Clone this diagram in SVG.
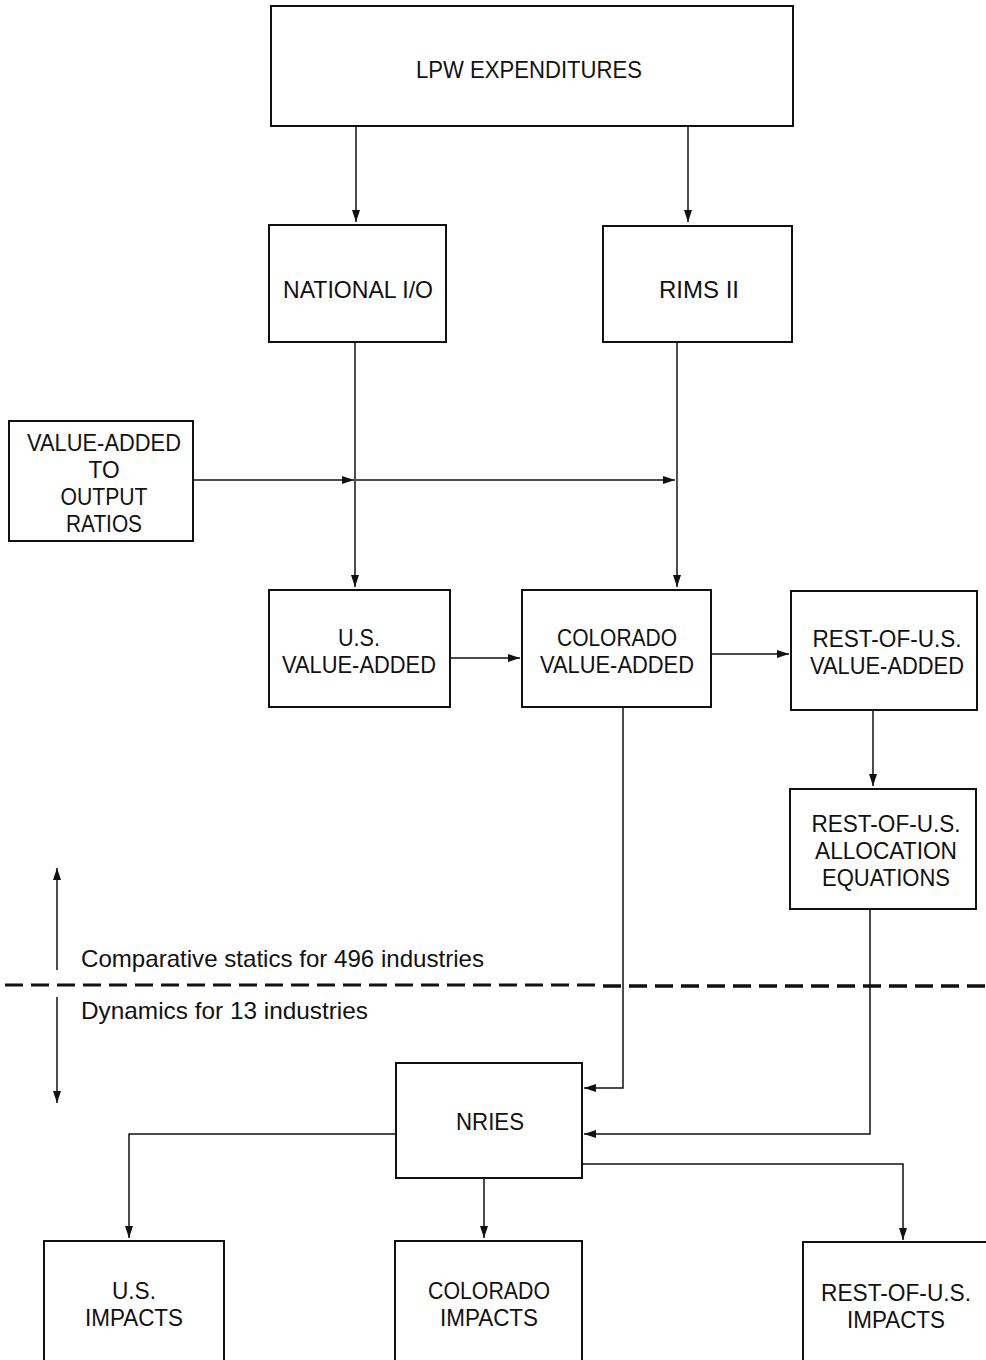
<svg xmlns="http://www.w3.org/2000/svg" width="986" height="1360" viewBox="0 0 986 1360">
<defs>
<style>
.box{fill:#fff;stroke:#111;stroke-width:2}
.t{font-family:"Liberation Sans",Arial,sans-serif;font-size:24px;fill:#111;text-anchor:middle}
.n{font-family:"Liberation Sans",Arial,sans-serif;font-size:24px;fill:#111}
.c{fill:none;stroke:#111;stroke-width:1.5}
</style>
<marker id="ah" viewBox="0 0 12 8" refX="12" refY="4" markerWidth="12" markerHeight="8" markerUnits="userSpaceOnUse" orient="auto">
<path d="M0,0 L12,4 L0,8 Z" fill="#111"/>
</marker>
</defs>
<rect width="986" height="1360" fill="#fff"/>

<g id="connectors">
<path class="c" d="M356,127 V222" marker-end="url(#ah)"/>
<path class="c" d="M688,127 V222" marker-end="url(#ah)"/>
<path class="c" d="M355,343 V587" marker-end="url(#ah)"/>
<path class="c" d="M677,343 V587" marker-end="url(#ah)"/>
<path class="c" d="M194,480 H354" marker-end="url(#ah)"/>
<path class="c" d="M356,480 H675" marker-end="url(#ah)"/>
<path class="c" d="M451,658 H520" marker-end="url(#ah)"/>
<path class="c" d="M712,654 H789" marker-end="url(#ah)"/>
<path class="c" d="M873,711 V786" marker-end="url(#ah)"/>
<path class="c" d="M623,708 V1088 H584" marker-end="url(#ah)"/>
<path class="c" d="M870,910 V1134 H584" marker-end="url(#ah)"/>
<path class="c" d="M396,1134 H129 V1238" marker-end="url(#ah)"/>
<path class="c" d="M484,1179 V1238" marker-end="url(#ah)"/>
<path class="c" d="M583,1164 H903 V1240" marker-end="url(#ah)"/>
<path class="c" d="M57,970 V868" marker-end="url(#ah)"/>
<path class="c" d="M57,997 V1103" marker-end="url(#ah)"/>
<path d="M5,985 H600" fill="none" stroke="#111" stroke-width="3" stroke-dasharray="18,8"/>
<path d="M603,986 H986" fill="none" stroke="#111" stroke-width="3.5" stroke-dasharray="18,8"/>
</g>

<g id="lpw">
<rect class="box" x="271" y="6" width="522" height="120"/>
<text class="t" x="529" y="78" textLength="226" lengthAdjust="spacingAndGlyphs">LPW EXPENDITURES</text>
</g>
<g id="national-io">
<rect class="box" x="269" y="225" width="177" height="117"/>
<text class="t" x="358" y="298" textLength="150" lengthAdjust="spacingAndGlyphs">NATIONAL I/O</text>
</g>
<g id="rims">
<rect class="box" x="603" y="226" width="189" height="116"/>
<text class="t" x="699" y="298" textLength="80" lengthAdjust="spacingAndGlyphs">RIMS II</text>
</g>
<g id="va-ratios">
<rect class="box" x="9" y="421" width="184" height="120"/>
<text class="t" x="104" y="451" textLength="154" lengthAdjust="spacingAndGlyphs">VALUE-ADDED</text>
<text class="t" x="104" y="478" textLength="31" lengthAdjust="spacingAndGlyphs">TO</text>
<text class="t" x="104" y="505" textLength="87" lengthAdjust="spacingAndGlyphs">OUTPUT</text>
<text class="t" x="104" y="532" textLength="76" lengthAdjust="spacingAndGlyphs">RATIOS</text>
</g>
<g id="us-va">
<rect class="box" x="269" y="590" width="181" height="117"/>
<text class="t" x="359" y="646" textLength="42" lengthAdjust="spacingAndGlyphs">U.S.</text>
<text class="t" x="359" y="673" textLength="154" lengthAdjust="spacingAndGlyphs">VALUE-ADDED</text>
</g>
<g id="co-va">
<rect class="box" x="522" y="590" width="189" height="117"/>
<text class="t" x="617" y="646" textLength="120" lengthAdjust="spacingAndGlyphs">COLORADO</text>
<text class="t" x="617" y="673" textLength="154" lengthAdjust="spacingAndGlyphs">VALUE-ADDED</text>
</g>
<g id="rest-va">
<rect class="box" x="791" y="591" width="186" height="119"/>
<text class="t" x="887" y="647" textLength="149" lengthAdjust="spacingAndGlyphs">REST-OF-U.S.</text>
<text class="t" x="887" y="674" textLength="154" lengthAdjust="spacingAndGlyphs">VALUE-ADDED</text>
</g>
<g id="rest-alloc">
<rect class="box" x="790" y="789" width="186" height="120"/>
<text class="t" x="886" y="832" textLength="149" lengthAdjust="spacingAndGlyphs">REST-OF-U.S.</text>
<text class="t" x="886" y="859" textLength="142" lengthAdjust="spacingAndGlyphs">ALLOCATION</text>
<text class="t" x="886" y="886" textLength="128" lengthAdjust="spacingAndGlyphs">EQUATIONS</text>
</g>
<g id="nries">
<rect class="box" x="396" y="1063" width="186" height="115"/>
<text class="t" x="490" y="1130" textLength="68" lengthAdjust="spacingAndGlyphs">NRIES</text>
</g>
<g id="us-impacts">
<rect class="box" x="44" y="1241" width="180" height="125"/>
<text class="t" x="134" y="1299" textLength="44" lengthAdjust="spacingAndGlyphs">U.S.</text>
<text class="t" x="134" y="1326" textLength="98" lengthAdjust="spacingAndGlyphs">IMPACTS</text>
</g>
<g id="co-impacts">
<rect class="box" x="395" y="1241" width="187" height="125"/>
<text class="t" x="489" y="1299" textLength="122" lengthAdjust="spacingAndGlyphs">COLORADO</text>
<text class="t" x="489" y="1326" textLength="98" lengthAdjust="spacingAndGlyphs">IMPACTS</text>
</g>
<g id="rest-impacts">
<rect class="box" x="803" y="1242" width="190" height="124"/>
<text class="t" x="896" y="1301" textLength="150" lengthAdjust="spacingAndGlyphs">REST-OF-U.S.</text>
<text class="t" x="896" y="1328" textLength="98" lengthAdjust="spacingAndGlyphs">IMPACTS</text>
</g>

<g id="annotations">
<text class="n" x="81" y="967" textLength="403" lengthAdjust="spacingAndGlyphs">Comparative statics for 496 industries</text>
<text class="n" x="81" y="1019" textLength="287" lengthAdjust="spacingAndGlyphs">Dynamics for 13 industries</text>
</g>
</svg>
